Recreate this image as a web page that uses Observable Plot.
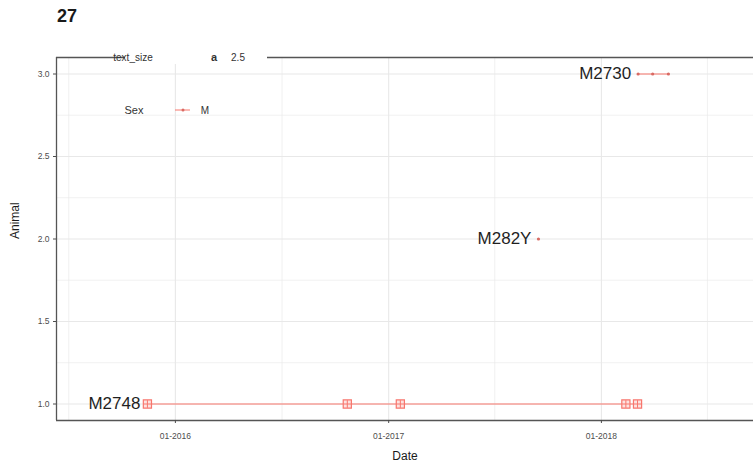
<!DOCTYPE html>
<html>
<head>
<meta charset="utf-8">
<script src="https://cdn.jsdelivr.net/npm/d3@7"></script>
<script src="https://cdn.jsdelivr.net/npm/@observablehq/plot@0.6"></script>
<style>
  html, body { margin: 0; padding: 0; background: #fff; }
  body { width: 753px; height: 469px; overflow: hidden; font-family: "Liberation Sans", Arial, sans-serif; }
  #title { height: 30px; box-sizing: border-box; padding: 7px 0 0 57px; font-size: 18px; line-height: 18px; font-weight: bold; color: #1a1a1a; }
</style>
</head>
<body>
<div id="title">27</div>
<div id="chart"></div>
<script>
// ---- data ----
const animalNames = ["M2748", "M282Y", "M2730"];
const animalValues = [1, 2, 3];
const m2748Dates = ["2015-11-14", "2016-10-22", "2017-01-21", "2018-02-12", "2018-03-04"];
const m282yDates = ["2017-09-15"];
const m2730Dates = ["2018-03-05", "2018-03-30", "2018-04-26"];
const xTickDates = ["2016-01-01", "2017-01-01", "2018-01-01"];
const xMinorDates = ["2015-07-02", "2016-07-02", "2017-07-02", "2018-07-02"];
const yTicks = [1.0, 1.5, 2.0, 2.5, 3.0];
const yMinor = [1.25, 1.75, 2.25, 2.75];
const xDomainDates = ["2015-06-11", "2018-09-19"];
const yDomain = [0.9, 3.1];
const legendSizeTitle = "text_size";
const legendSizeValue = "2.5";
const legendSexTitle = "Sex";
const legendSexValue = "M";

const parse = d3.utcParse("%Y-%m-%d");
const series = [
  {name: animalNames[0], y: animalValues[0], dates: m2748Dates},
  {name: animalNames[1], y: animalValues[1], dates: m282yDates},
  {name: animalNames[2], y: animalValues[2], dates: m2730Dates}
];
const obs = series.flatMap(s => s.dates.map(d => ({animal: s.name, y: s.y, date: parse(d)})));
const labels = series.map(s => ({animal: s.name, y: s.y, date: parse(s.dates[0])}));
const bigObs = obs.filter(d => d.animal === "M2748");
const smallObs = obs.filter(d => d.animal !== "M2748");

const red = "#F8766D";
const grid = "#e8e8e8";

const plot = Plot.plot({
  width: 753,
  height: 439,
  marginTop: 27,
  marginBottom: 49,
  marginLeft: 56,
  marginRight: 0,
  style: {fontFamily: "Liberation Sans, Arial, sans-serif", background: "white", overflow: "visible"},
  x: {type: "utc", domain: xDomainDates.map(parse)},
  y: {domain: yDomain},
  marks: [
    Plot.ruleX(xMinorDates.map(parse), {stroke: grid, strokeWidth: 0.6}),
    Plot.ruleY(yMinor, {stroke: grid, strokeWidth: 0.6}),
    Plot.ruleX(xTickDates.map(parse), {stroke: grid, strokeWidth: 1.1}),
    Plot.ruleY(yTicks, {stroke: grid, strokeWidth: 1.1}),
    Plot.line(obs, {x: "date", y: "y", z: "animal", stroke: red, strokeWidth: 1}),
    Plot.dot(bigObs, {x: "date", y: "y", symbol: "square", r: 4.6, stroke: red, fill: "#fde2e0", strokeWidth: 1.2}),
    Plot.dot(bigObs, {x: "date", y: "y", symbol: "plus", r: 2.6, stroke: red, strokeWidth: 1}),
    Plot.dot(smallObs, {x: "date", y: "y", r: 1.6, fill: "#d96a63"}),
    Plot.text(labels, {x: "date", y: "y", text: "animal", textAnchor: "end", dx: -7, fontSize: 17, fill: "#1f1f1f"}),
    Plot.ruleY([yDomain[1]], {stroke: "#555", strokeWidth: 1.3}),
    Plot.ruleY([yDomain[0]], {stroke: "#555", strokeWidth: 1.3}),
    Plot.ruleX([parse(xDomainDates[0])], {stroke: "#555", strokeWidth: 1.3}),
    Plot.axisX({ticks: xTickDates.map(parse), tickFormat: d3.utcFormat("%m-%Y"), tickSize: 3, tickPadding: 9, fontSize: 8.5, color: "#4d4d4d", label: null}),
    Plot.axisY({ticks: yTicks, tickFormat: d3.format(".1f"), tickSize: 3, tickPadding: 4, fontSize: 8.5, color: "#4d4d4d", label: null}),
    Plot.text(["Animal"], {frameAnchor: "left", dx: -41, rotate: -90, fontSize: 12, fill: "#1a1a1a"}),
    Plot.text(["Date"], {frameAnchor: "bottom", dy: 39, fontSize: 12, fill: "#1a1a1a"})
  ]
});

// legends (drawn on top of the SVG, like ggplot's inside legends)
const svg = d3.select(plot);
const lg = svg.append("g").attr("font-family", "Liberation Sans, Arial, sans-serif");
lg.append("rect").attr("x", 125).attr("y", 20).attr("width", 142).attr("height", 14).attr("fill", "white");
lg.append("text").attr("x", 133).attr("y", 31).attr("font-size", 10).attr("fill", "#333").text(legendSizeTitle);
lg.append("text").attr("x", 214).attr("y", 31).attr("font-size", 11).attr("font-weight", "bold").attr("fill", "#333").text("a");
lg.append("text").attr("x", 238).attr("y", 31).attr("font-size", 10).attr("fill", "#333").text(legendSizeValue);
lg.append("text").attr("x", 134).attr("y", 84).attr("font-size", 11).attr("fill", "#333").text(legendSexTitle);
lg.append("line").attr("x1", 175).attr("x2", 190).attr("y1", 80).attr("y2", 80).attr("stroke", red).attr("stroke-width", 1);
lg.append("circle").attr("cx", 183).attr("cy", 80).attr("r", 1.5).attr("fill", "#d96a63");
lg.append("text").attr("x", 205).attr("y", 84).attr("font-size", 10).attr("fill", "#333").text(legendSexValue);

document.getElementById("chart").append(plot);
</script>
</body>
</html>
